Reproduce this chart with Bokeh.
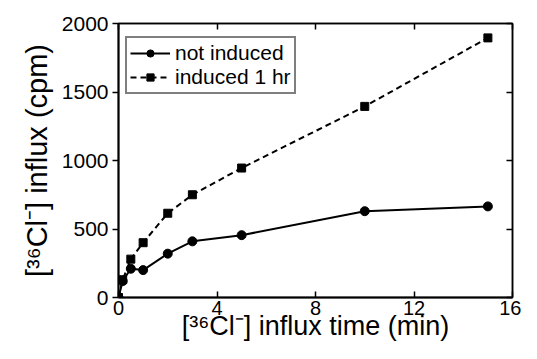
from bokeh.plotting import figure
from bokeh.models import LinearAxis, Range1d, FixedTicker, Legend, LegendItem, CustomLabelingPolicy
from bokeh.embed import file_html
from bokeh.resources import INLINE

times = [0, 0.17, 0.5, 1, 2, 3, 5, 10, 15]
not_induced = [0, 120, 210, 200, 320, 410, 455, 630, 665]
induced = [0, 130, 280, 400, 615, 750, 945, 1395, 1895]
x_ticks = [0, 4, 8, 12, 16]
y_ticks = [0, 500, 1000, 1500, 2000]

FONT = "Liberation Sans"

p = figure(width=521, height=343, output_backend="svg", toolbar_location=None,
           x_range=Range1d(0, 16), y_range=Range1d(0, 2000),
           min_border_left=118, min_border_right=9, min_border_top=23, min_border_bottom=40)
p.grid.visible = False
p.outline_line_color = "black"
p.outline_line_width = 1.5

r1 = p.line(times, not_induced, line_color="black", line_width=2)
c1 = p.scatter(times, not_induced, marker="circle", size=9, color="black")
r2 = p.line(times, induced, line_color="black", line_width=2, line_dash="6 4")
c2 = p.scatter(times, induced, marker="square", size=8, color="black")

xa = p.xaxis[0]
xa.ticker = FixedTicker(ticks=x_ticks)
xa.minor_tick_line_color = None
xa.major_tick_in = 6
xa.major_tick_out = 0
xa.axis_line_width = 2
xa.major_tick_line_width = 1.5
xa.major_label_text_font = FONT
xa.major_label_text_font_size = "20px"
xa.major_label_text_color = "black"
xa.major_label_standoff = 3
xa.axis_label = "[³⁶Cl⁻] influx time (min)"
xa.axis_label_text_font = FONT
xa.axis_label_text_font_size = "27px"
xa.axis_label_text_font_style = "normal"
xa.axis_label_text_color = "black"
xa.axis_label_standoff = -7

ya = p.yaxis[0]
ya.ticker = FixedTicker(ticks=y_ticks)
ya.minor_tick_line_color = None
ya.major_tick_in = 0
ya.major_tick_out = 6
ya.axis_line_width = 2
ya.major_tick_line_width = 1.5
ya.major_label_text_font = FONT
ya.major_label_text_font_size = "21px"
ya.major_label_text_color = "black"
ya.major_label_standoff = 4
ya.axis_label = "[³⁶Cl⁻] influx (cpm)"
ya.axis_label_text_font = FONT
ya.axis_label_text_font_size = "29px"
ya.axis_label_text_font_style = "normal"
ya.axis_label_text_color = "black"
ya.axis_label_standoff = 6

hide = "const all = [...indices]; for (const i of all) indices.unset(i); return indices"
top = LinearAxis(ticker=FixedTicker(ticks=x_ticks), major_tick_in=6, major_tick_out=0,
                 major_label_policy=CustomLabelingPolicy(code=hide), major_label_text_font_size="0px",
                 minor_tick_line_color=None,
                 axis_line_width=1.5, major_tick_line_width=1.5, major_label_standoff=0)
right = LinearAxis(ticker=FixedTicker(ticks=y_ticks), major_tick_in=6, major_tick_out=0,
                   major_label_policy=CustomLabelingPolicy(code=hide), major_label_text_font_size="0px",
                   minor_tick_line_color=None,
                   axis_line_width=1.5, major_tick_line_width=1.5, major_label_standoff=0)
p.add_layout(top, "above")
p.add_layout(right, "right")

legend = Legend(items=[LegendItem(label="not induced", renderers=[r1, c1]),
                       LegendItem(label="induced 1 hr", renderers=[r2, c2])],
                location=(7, 203))
legend.label_text_font = FONT
legend.label_text_font_size = "21px"
legend.label_text_color = "black"
legend.glyph_width = 40
legend.glyph_height = 18
legend.label_height = 18
legend.label_standoff = 5
legend.spacing = 0
legend.padding = 3
legend.margin = 0
legend.border_line_color = "black"
legend.border_line_width = 2.5
legend.background_fill_alpha = 1
p.add_layout(legend, "center")

open("out.html", "w").write(file_html(p, INLINE))
